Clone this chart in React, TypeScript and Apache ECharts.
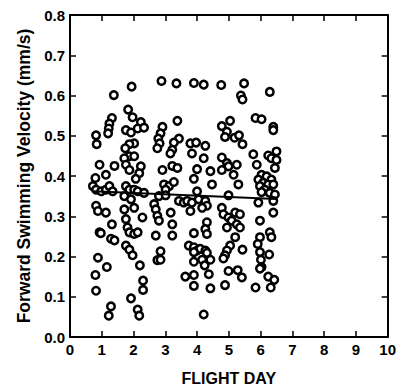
import React, { useEffect, useRef } from "react";
import * as echarts from "echarts";

const xTicks = [0, 1, 2, 3, 4, 5, 6, 7, 8, 9, 10];
const yTicks = [0.0, 0.1, 0.2, 0.3, 0.4, 0.5, 0.6, 0.7, 0.8];

const flightDay = [
  2.88, 3.35, 1.94, 1.38, 1.83, 1.97, 1.32, 1.24, 1.22, 1.2, 2.23, 3.38, 0.82, 0.84, 1.76, 1.92, 2.13, 2.33, 2.91, 2.85,
  2.78, 2.82, 3.43, 3.27, 3.22, 2.02, 1.87, 1.74, 2.75, 1.87, 2.02, 3.16, 3.9, 4.21, 4.76, 5.48, 6.29, 5.38, 5.43, 5.84,
  6.03, 5.04, 4.78, 6.4, 6.4, 4.94, 4.88, 5.18, 5.32, 5.43, 3.79, 3.97, 4.26, 3.84, 5.77, 6.24, 6.5, 4.78, 4.21,
  1.71, 0.93, 1.4, 1.76, 1.87, 2.23, 2.18, 2.07, 2.91, 3.22, 3.38, 0.8, 1.13, 0.72, 0.82, 0.98, 1.13, 1.24, 1.34, 1.76,
  1.87, 2.02, 2.13, 2.33, 1.71, 1.92, 2.96, 3.12, 3.27, 3.01, 2.8, 3.01, 3.43, 3.58, 2.65, 2.7, 0.82, 0.88, 1.13, 1.71,
  2.02, 2.75, 2.8, 3.17, 3.22, 1.32, 1.76, 1.81, 1.87, 2.02, 2.13, 2.28, 0.93, 1.29, 2.7, 3.22,
  4.94, 4.99, 5.25, 4.0, 4.42, 4.78, 5.15, 3.9, 4.47, 5.3, 6.34, 6.5, 5.88, 6.45, 6.03, 6.19, 6.34, 5.93, 6.08, 6.24,
  6.4, 5.98, 6.13, 6.29, 6.45, 6.03, 4.0, 4.99, 3.69, 3.84, 4.05, 4.26, 4.31, 3.79, 4.16, 4.78, 5.93, 6.4, 4.83, 4.99,
  5.2, 5.35, 5.09, 5.25, 4.94, 5.35, 6.4, 4.31, 4.26, 4.31, 3.9, 5.98, 5.2, 5.98, 6.29, 6.34,
  1.4, 1.76, 1.87, 1.97, 2.85, 2.75, 2.85, 0.88, 1.16, 2.2, 0.8, 3.63, 2.3, 2.3, 0.82, 1.92, 1.29, 1.22, 2.13, 2.18,
  3.74, 3.9, 4.0, 4.1, 4.26, 4.31, 3.9, 5.04, 4.94, 4.88, 4.83, 5.43, 5.91, 5.98, 6.27, 6.01, 6.03, 5.98, 3.9, 4.16,
  4.24, 4.42, 4.99, 5.28, 5.41, 3.9, 4.37, 6.24, 6.43, 3.9, 4.42, 4.88, 5.84, 6.32, 4.21, 0.97,
];

const velocity = [
  0.636, 0.63, 0.622, 0.601, 0.565, 0.546, 0.544, 0.53, 0.518, 0.506, 0.534, 0.537, 0.501, 0.479, 0.514, 0.508, 0.518, 0.52, 0.522, 0.506,
  0.493, 0.481, 0.493, 0.483, 0.465, 0.481, 0.479, 0.469, 0.469, 0.449, 0.449, 0.456, 0.631, 0.627, 0.626, 0.63, 0.609, 0.6, 0.59, 0.544,
  0.541, 0.537, 0.524, 0.522, 0.514, 0.51, 0.497, 0.495, 0.501, 0.479, 0.481, 0.483, 0.475, 0.456, 0.454, 0.451, 0.461, 0.446, 0.444,
  0.444, 0.428, 0.425, 0.428, 0.415, 0.424, 0.407, 0.393, 0.415, 0.425, 0.42, 0.395, 0.403, 0.375, 0.366, 0.362, 0.366, 0.375, 0.362, 0.375,
  0.366, 0.366, 0.362, 0.358, 0.35, 0.342, 0.379, 0.375, 0.385, 0.366, 0.35, 0.352, 0.338, 0.334, 0.33, 0.317, 0.326, 0.313, 0.309, 0.317,
  0.321, 0.301, 0.289, 0.309, 0.28, 0.28, 0.293, 0.272, 0.26, 0.256, 0.26, 0.297, 0.26, 0.244, 0.252, 0.252,
  0.432, 0.424, 0.428, 0.417, 0.412, 0.415, 0.403, 0.393, 0.379, 0.379, 0.444, 0.44, 0.428, 0.42, 0.403, 0.399, 0.391, 0.391, 0.383, 0.379,
  0.379, 0.375, 0.366, 0.358, 0.354, 0.36, 0.362, 0.352, 0.338, 0.334, 0.342, 0.338, 0.326, 0.313, 0.321, 0.321, 0.334, 0.338, 0.305, 0.297,
  0.309, 0.305, 0.289, 0.28, 0.272, 0.272, 0.309, 0.285, 0.268, 0.256, 0.258, 0.289, 0.248, 0.248, 0.26, 0.248,
  0.24, 0.227, 0.217, 0.203, 0.213, 0.191, 0.192, 0.197, 0.174, 0.178, 0.154, 0.15, 0.14, 0.117, 0.115, 0.096, 0.076, 0.053, 0.068, 0.053,
  0.227, 0.223, 0.215, 0.219, 0.215, 0.209, 0.211, 0.227, 0.215, 0.203, 0.195, 0.217, 0.231, 0.211, 0.205, 0.192, 0.174, 0.17, 0.187, 0.192,
  0.178, 0.192, 0.164, 0.166, 0.148, 0.154, 0.156, 0.15, 0.142, 0.127, 0.121, 0.129, 0.123, 0.123, 0.056, 0.258,
];

const fitX = [0.72, 6.5];
const fitY = [0.362, 0.343];

export default function App() {
  const ref = useRef<HTMLDivElement>(null);
  useEffect(() => {
    if (!ref.current) return;
    const chart = echarts.init(ref.current, undefined, { renderer: "svg" });
    const font = "'Liberation Sans', Arial, sans-serif";
    const points = flightDay.map((x, i) => [x, velocity[i]]);
    const fit = fitX.map((x, i) => [x, fitY[i]]);
    const axisLine = { show: true, onZero: false, lineStyle: { color: "#000", width: 2 } };
    const axisTick = { show: true, inside: true, length: 6, lineStyle: { color: "#000", width: 1.5 } };
    chart.setOption({
      animation: false,
      backgroundColor: "#fff",
      grid: { left: 70, right: 9, top: 15, bottom: 50 },
      xAxis: [
        {
          type: "value",
          min: xTicks[0],
          max: xTicks[xTicks.length - 1],
          interval: 1,
          position: "bottom",
          axisLine,
          axisTick,
          splitLine: { show: false },
          axisLabel: { color: "#000", fontWeight: "bold", fontSize: 15, fontFamily: font, margin: 5 },
          name: "FLIGHT DAY",
          nameLocation: "middle",
          nameGap: 33,
          nameTextStyle: { color: "#000", fontWeight: "bold", fontSize: 16, fontFamily: font },
        },
        {
          type: "value",
          min: xTicks[0],
          max: xTicks[xTicks.length - 1],
          interval: 1,
          position: "top",
          axisLine,
          axisTick,
          splitLine: { show: false },
          axisLabel: { show: false },
        },
      ],
      yAxis: [
        {
          type: "value",
          min: yTicks[0],
          max: yTicks[yTicks.length - 1],
          interval: 0.1,
          position: "left",
          axisLine,
          axisTick,
          splitLine: { show: false },
          axisLabel: {
            color: "#000",
            fontWeight: "bold",
            fontSize: 15,
            fontFamily: font,
            margin: 5,
            formatter: (v: number) => v.toFixed(1),
          },
          name: "Forward Swimming Velocity (mm/s)",
          nameLocation: "middle",
          nameGap: 36,
          nameTextStyle: { color: "#000", fontWeight: "bold", fontSize: 17.5, fontFamily: font },
        },
        {
          type: "value",
          min: yTicks[0],
          max: yTicks[yTicks.length - 1],
          interval: 0.1,
          position: "right",
          axisLine,
          axisTick,
          splitLine: { show: false },
          axisLabel: { show: false },
        },
      ],
      series: [
        {
          type: "scatter",
          data: points,
          symbol: "circle",
          symbolSize: 7.5,
          itemStyle: { color: "#fff", borderColor: "#000", borderWidth: 2.5, opacity: 1 },
          z: 3,
        },
        {
          type: "line",
          data: fit,
          showSymbol: false,
          lineStyle: { color: "#000", width: 2 },
          z: 4,
        },
      ],
    });
    return () => chart.dispose();
  }, []);
  return <div ref={ref} style={{ width: 399, height: 391, position: "absolute", left: 0, top: 0 }} />;
}
